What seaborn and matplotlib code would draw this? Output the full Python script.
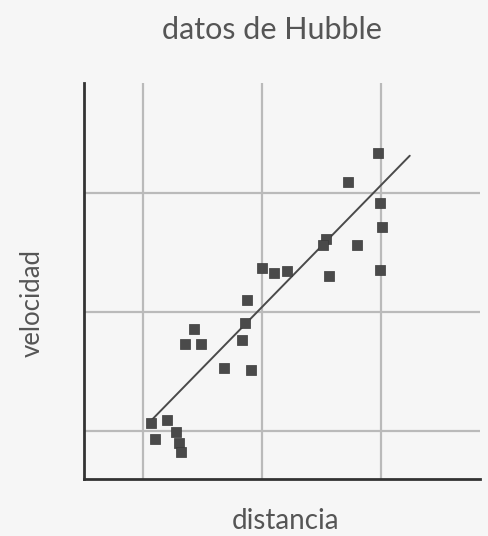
import numpy as np
import pandas as pd
import matplotlib
matplotlib.use('Agg')
import matplotlib.pyplot as plt
import seaborn as sns

# Puntos (unidades de la cuadricula)
distancia = [2.97, 2.72, 2.99, 3.01, 2.99, 2.80, 2.54, 2.51, 2.56,
             2.00, 2.10, 2.21, 1.87, 1.86, 1.83, 1.43, 1.35, 1.49,
             1.68, 1.91, 1.07, 1.20, 1.10, 1.28, 1.30, 1.32]
velocidad = [3.33, 3.09, 2.91, 2.71, 2.35, 2.56, 2.61, 2.56, 2.30,
             2.37, 2.33, 2.34, 2.10, 1.91, 1.76, 1.86, 1.73, 1.73,
             1.53, 1.51, 1.07, 1.09, 0.93, 0.99, 0.90, 0.82]

# Recta de ajuste dibujada en la figura
recta_x = [1.07, 3.24]
recta_y = [1.09, 3.31]

grid_ticks = [1, 2, 3]

df = pd.DataFrame({'distancia': distancia, 'velocidad': velocidad})
df_recta = pd.DataFrame({'x': recta_x, 'y': recta_y})

sns.set_theme(style='white')
plt.rcParams['font.family'] = ['Lato', 'DejaVu Sans']

bg = '#f6f6f6'
ink = '#555555'

fig = plt.figure(figsize=(4.89, 5.36), dpi=100, facecolor=bg)
ax = fig.add_axes([0.1718, 0.1063, 0.8098, 0.7388])
ax.set_facecolor(bg)

ax.set_xlim(0.504, 3.83)
ax.set_ylim(0.597, 3.92)
ax.set_xticks(grid_ticks)
ax.set_yticks(grid_ticks)
ax.tick_params(length=0, labelbottom=False, labelleft=False)
ax.grid(True, color='#bababa', linewidth=1.6)

sns.lineplot(data=df_recta, x='x', y='y', color='#4a4a4a',
             linewidth=1.4, ax=ax, zorder=3)
sns.scatterplot(data=df, x='distancia', y='velocidad', marker='s',
                s=55, color='#4a4a4a', edgecolor='#3a3a3a',
                linewidth=0.5, ax=ax, zorder=4)

ax.set_xlabel('')
ax.set_ylabel('')
for side in ['top', 'right']:
    ax.spines[side].set_visible(False)
for side in ['left', 'bottom']:
    ax.spines[side].set_color('#333333')
    ax.spines[side].set_linewidth(2)

fig.text(0.556, 0.944, 'datos de Hubble', ha='center', va='center',
         fontsize=22, color=ink)
fig.text(0.583, 0.028, 'distancia', ha='center', va='center',
         fontsize=20, color=ink)
fig.text(0.065, 0.435, 'velocidad', ha='center', va='center',
         rotation=90, fontsize=18.5, color=ink)

fig.savefig('out.png', dpi=100, facecolor=bg)
